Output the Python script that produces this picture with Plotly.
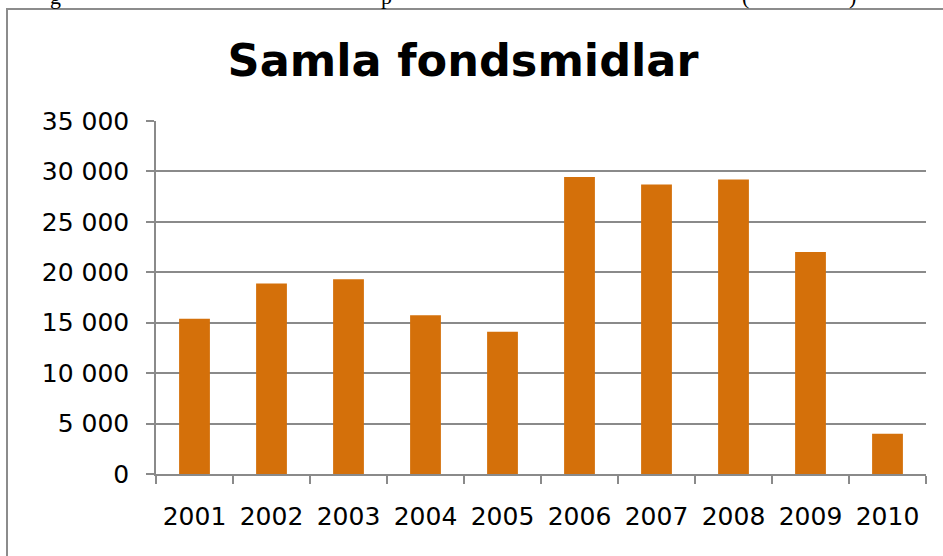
import plotly.graph_objects as go

years = ["2001", "2002", "2003", "2004", "2005", "2006", "2007", "2008", "2009", "2010"]
values = [15400, 18900, 19300, 15750, 14100, 29450, 28700, 29200, 22000, 4000]
y_ticks = [0, 5000, 10000, 15000, 20000, 25000, 30000, 35000]
title_text = "Samla fondsmidlar"

W, H = 943, 556
ML, MR, MT, MB = 156, 17, 121, 82
PW = W - ML - MR
PH = H - MT - MB

def px_x(p):
    return (p - ML) / PW

def px_y(p):
    return (H - MB - p) / PH

GRID = "#8a8a8a"
FONT = "DejaVu Sans"

fig = go.Figure(
    go.Bar(
        x=years,
        y=values,
        marker=dict(color="#D4700A", line=dict(width=0)),
        width=0.4,
    )
)

fig.update_layout(
    width=W,
    height=H,
    margin=dict(l=ML, r=MR, t=MT, b=MB, pad=0),
    paper_bgcolor="white",
    plot_bgcolor="white",
    separators=", ",
    showlegend=False,
    font=dict(family=FONT, color="black", size=25),
    title=dict(
        text="<b>" + title_text + "</b>",
        font=dict(family=FONT, size=44.6, color="black"),
        xref="container",
        yref="container",
        x=463 / W,
        y=1 - 60.3 / H,
        xanchor="center",
        yanchor="middle",
    ),
    xaxis=dict(
        type="category",
        tickson="boundaries",
        ticks="outside",
        ticklen=8,
        tickwidth=1.5,
        tickcolor=GRID,
        showline=True,
        linecolor=GRID,
        linewidth=1.5,
        showgrid=False,
        tickfont=dict(family=FONT, size=25, color="black"),
        ticklabelstandoff=19,
    ),
    yaxis=dict(
        range=[0, 35000],
        tickvals=y_ticks,
        tickformat=",d",
        ticks="outside",
        ticklen=8,
        tickwidth=1.5,
        tickcolor=GRID,
        showline=True,
        linecolor=GRID,
        linewidth=1.5,
        showgrid=True,
        gridcolor=GRID,
        gridwidth=1.5,
        zeroline=False,
        tickfont=dict(family=FONT, size=25, color="black"),
        ticklabelstandoff=12,
    ),
    shapes=[
        dict(
            type="rect",
            xref="paper",
            yref="paper",
            x0=px_x(7),
            x1=px_x(W + 20),
            y0=px_y(H + 20),
            y1=px_y(9),
            line=dict(color="#8c8c8c", width=2),
            fillcolor="rgba(0,0,0,0)",
            layer="below",
        )
    ],
    annotations=[
        dict(text=t, x=px_x(xp), y=px_y(11), xref="paper", yref="paper",
             xanchor="center", yanchor="bottom", showarrow=False,
             font=dict(family="Liberation Serif", size=22, color="black"))
        for t, xp in [("g", 55), ("p", 386), ("(", 745), (")", 852)]
    ],
)

fig.write_html(
    "out.html",
    config={"displayModeBar": False},
    post_script="document.body.style.margin='0px';document.body.style.padding='0px';",
)
